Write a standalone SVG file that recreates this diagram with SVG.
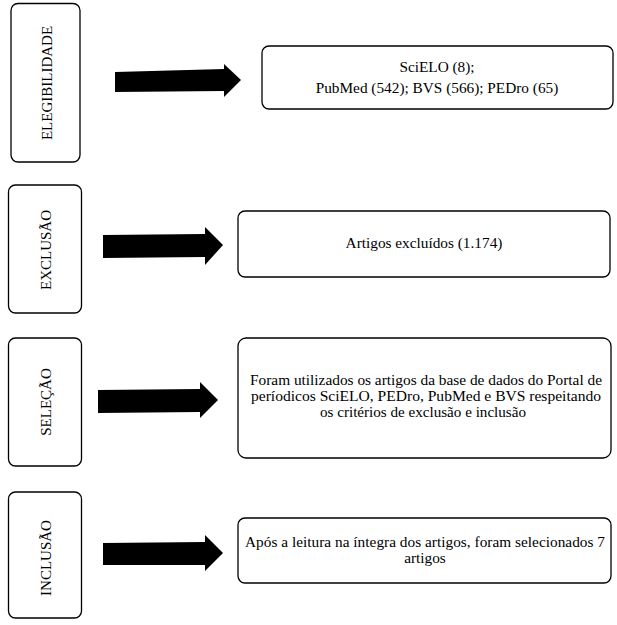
<svg xmlns="http://www.w3.org/2000/svg" width="617" height="625" viewBox="0 0 617 625">
<style>
.box{fill:#fff;stroke:#000;stroke-width:1.3}
.t{font-family:"Liberation Serif","Times New Roman",serif;font-size:15.3px;fill:#000;text-anchor:middle}
.s{font-family:"Liberation Serif","Times New Roman",serif;font-size:14.5px;fill:#000;text-anchor:middle}
.v{font-family:"Liberation Serif","Times New Roman",serif;font-size:15px;fill:#000;text-anchor:middle}
.arr{fill:#000}
</style>
<rect width="617" height="625" fill="#fff"/>
<g id="elegibilidade">
<rect class="box" x="11" y="3.5" width="69" height="158.5" rx="7"/>
<text class="v" transform="translate(52,83) rotate(-90)">ELEGIBILIDADE</text>
</g>
<g id="bases">
<rect class="box" x="262" y="46" width="351" height="63" rx="7"/>
<text class="t" x="437" y="72">SciELO (8);</text>
<text class="t" x="437" y="93">PubMed (542); BVS (566); PEDro (65)</text>
</g>
<g id="exclusao">
<rect class="box" x="8.5" y="185" width="73" height="128" rx="7"/>
<text class="v" transform="translate(51,250) rotate(-90)">EXCLUSÃO</text>
</g>
<g id="excluidos">
<rect class="box" x="238" y="211" width="372" height="66" rx="7"/>
<text class="t" x="424" y="248">Artigos excluídos (1.174)</text>
</g>
<g id="selecao">
<rect class="box" x="8.5" y="338" width="73" height="128" rx="7"/>
<text class="v" transform="translate(51,402) rotate(-90)">SELEÇÃO</text>
</g>
<g id="utilizados">
<rect class="box" x="238" y="338" width="373" height="120" rx="8"/>
<text class="s" x="426" y="385" textLength="352" lengthAdjust="spacingAndGlyphs">Foram utilizados os artigos da base de dados do Portal de</text>
<text class="s" x="426" y="401" textLength="350" lengthAdjust="spacingAndGlyphs">períodicos SciELO, PEDro, PubMed e BVS respeitando</text>
<text class="s" x="423" y="417" textLength="206" lengthAdjust="spacingAndGlyphs">os critérios de exclusão e inclusão</text>
</g>
<g id="inclusao">
<rect class="box" x="8.5" y="492" width="73" height="126" rx="7"/>
<text class="v" transform="translate(51,558) rotate(-90)">INCLUSÃO</text>
</g>
<g id="selecionados">
<rect class="box" x="238" y="518" width="373" height="65" rx="7"/>
<text class="t" x="425" y="547" textLength="360" lengthAdjust="spacing">Após a leitura na íntegra dos artigos, foram selecionados 7</text>
<text class="t" x="425" y="563">artigos</text>
</g>
<g id="connectors">
<polygon class="arr" points="115,72 224,69 224,64 241,80 224,97 224,91 115,92"/>
<polygon class="arr" points="103,235 205,234 205,227 223,245 205,265 205,257 103,258"/>
<polygon class="arr" points="98,390 200,389 200,382 218,400 200,418 200,412 98,413"/>
<polygon class="arr" points="103,543 205,542 205,535 223,553 205,571 205,565 103,565"/>
</g>
</svg>
